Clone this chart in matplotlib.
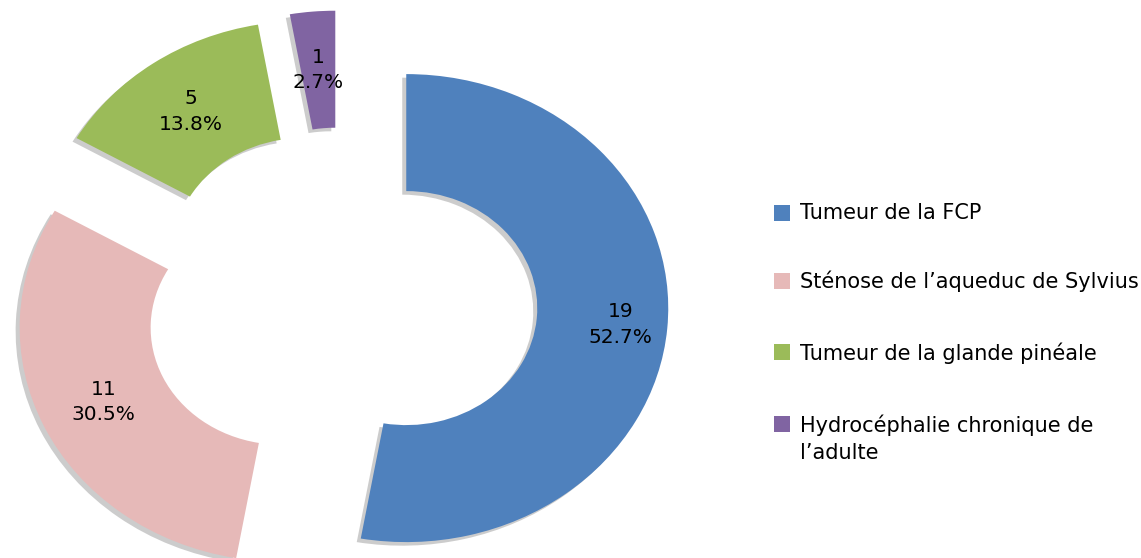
import numpy as np
import matplotlib
matplotlib.use('Agg')
from matplotlib import pyplot as plt

# data
categories = ['Tumeur de la FCP',
              'Sténose de l\u2019aqueduc de Sylvius',
              'Tumeur de la glande pinéale',
              'Hydrocéphalie chronique de\nl\u2019adulte']
counts = [19, 11, 5, 1]
pct_labels = ['52.7%', '30.5%', '13.8%', '2.7%']
colors = ['#4F81BD', '#E6B9B8', '#9BBB59', '#8064A2']

W, H = 1141, 558
fig = plt.figure(figsize=(W / 100, H / 100), dpi=100)

# donut centre at pixel (341, 303), radius 262 px wide x 234 px tall
cx, cy, rx, ry = 341, 303, 262, 234
ax_w = 700
ax = fig.add_axes([0, 0, ax_w / W, 1])

wedges, _ = ax.pie(counts, colors=colors, startangle=90, counterclock=False,
                   explode=[0.25] * len(counts), radius=1,
                   wedgeprops=dict(width=0.5, edgecolor='none'),
                   shadow=dict(ox=-0.011, oy=-0.011, facecolor='#9a9a9a',
                               edgecolor='none', alpha=0.5))
ax.set_aspect('auto')
ax.set_xlim(-cx / rx, (ax_w - cx) / rx)
ax.set_ylim((cy - H) / ry, cy / ry)
ax.axis('off')

# value + percentage labels in the middle of each ring segment
for w, n, p in zip(wedges, counts, pct_labels):
    ang = np.deg2rad((w.theta1 + w.theta2) / 2)
    rr = w.r - w.width / 2
    if n == max(counts):
        rr += 0.07
    x = w.center[0] + rr * np.cos(ang)
    y = w.center[1] + rr * np.sin(ang)
    ax.text(x, y, f'{n}\n{p}', ha='center', va='center', fontsize=14.5,
            linespacing=1.45, color='black')

# legend drawn in pixel coordinates on the right
lg = fig.add_axes([0, 0, 1, 1], facecolor='none')
lg.set_xlim(0, W)
lg.set_ylim(H, 0)
lg.axis('off')
row_y = [213, 281, 352, 424]
lg.scatter([782] * len(colors), row_y, marker='s', s=120, c=colors,
           linewidths=0)
for yy, lab in zip(row_y, categories):
    lg.text(800, yy - 10, lab, ha='left', va='top',
            fontsize=15, linespacing=1.45)

fig.savefig('out.png', dpi=100)
